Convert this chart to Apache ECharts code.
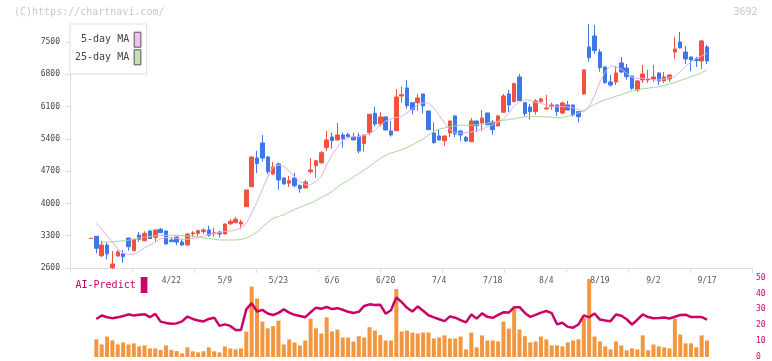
<!DOCTYPE html>
<html><head><meta charset="utf-8">
<script src="https://cdn.jsdelivr.net/npm/echarts@6/dist/echarts.min.js"></script>
<style>html,body{margin:0;padding:0;background:#fff}#c{width:772px;height:361px}</style>
</head><body><div id="c"></div>
<script>
const dates = ["4/1","4/2","4/3","4/4","4/7","4/8","4/9","4/10","4/11","4/14","4/15","4/16","4/17","4/18","4/21","4/22","4/23","4/24","4/25","4/28","4/30",
"5/1","5/2","5/7","5/8","5/9","5/12","5/13","5/14","5/15","5/16","5/19","5/20","5/21","5/22","5/23","5/26","5/27","5/28","5/29","5/30",
"6/2","6/3","6/4","6/5","6/6","6/9","6/10","6/11","6/12","6/13","6/16","6/17","6/18","6/19","6/20","6/23","6/24","6/25","6/26","6/27","6/30",
"7/1","7/2","7/3","7/4","7/7","7/8","7/9","7/10","7/11","7/14","7/15","7/16","7/17","7/18","7/22","7/23","7/24","7/25","7/28","7/29","7/30","7/31",
"8/1","8/4","8/5","8/6","8/7","8/8","8/12","8/13","8/14","8/15","8/18","8/19","8/20","8/21","8/22","8/25","8/26","8/27","8/28","8/29",
"9/1","9/2","9/3","9/4","9/5","9/8","9/9","9/10","9/11","9/12","9/16","9/17"];
const dateLabels = ["4/22","5/9","5/23","6/6","6/20","7/4","7/18","8/4","8/19","9/2","9/17"];
// [open, close, low, high]
const ohlc = [
[3240,3245,3240,3245],[3288,3027,2919,3290],[2867,3099,2839,3186],[3099,2908,2789,3158],[2607,2687,2578,2969],
[2860,2947,2845,2990],[2910,2845,2715,2990],[3251,3062,2975,3251],[2975,3223,2975,3225],[3316,3223,3171,3381],
[3192,3353,3179,3396],[3403,3236,3230,3425],[3266,3425,3164,3425],[3440,3366,3360,3468],[3403,3121,3110,3410],
[3208,3171,3165,3266],[3273,3164,3093,3280],[3164,3099,3077,3229],[3099,3338,3084,3345],[3340,3362,3266,3400],
[3353,3410,3279,3431],[3388,3425,3338,3468],[3425,3310,3280,3518],[3345,3365,3280,3475],[3375,3340,3258,3410],
[3338,3555,3330,3560],[3561,3613,3533,3657],[3583,3657,3570,3713],[3555,3598,3453,3650],[3930,4293,3925,4293],
[4364,5009,4364,5009],[4987,4863,4662,5139],[5312,4987,4907,5486],[5009,4690,4640,5030],[4640,4792,4612,4900],
[4857,4510,4299,4885],[4553,4423,4410,4560],[4438,4494,4364,4596],[4553,4386,4350,4662],[4386,4321,4234,4416],
[4336,4466,4330,4510],[4690,4727,4655,4987],[4820,4928,4560,4935],[4879,5102,4875,5139],[5211,5378,5139,5573],
[5443,5363,5189,5536],[5378,5486,5370,5747],[5486,5406,5211,5536],[5493,5449,5440,5536],[5443,5378,5370,5536],
[5464,5139,5089,5536],[5297,5486,5124,5490],[5536,5935,5480,5940],[5957,5725,5675,6100],[5725,5877,5666,5979],
[5877,5595,5580,5880],[5573,5486,5450,5790],[5580,6311,5575,6485],[6332,6360,6187,6533],[6506,6122,6057,6680],
[6187,6035,5935,6190],[6187,6289,6013,6376],[6376,6115,5949,6380],[6007,5601,5595,6010],[5530,5319,5297,5762],
[5464,5378,5370,5616],[5363,5464,5254,5470],[5530,5790,5443,5795],[5899,5508,5436,5920],[5573,5486,5356,5580],
[5436,5356,5334,5464],[5341,5790,5335,5855],[5790,5688,5558,5795],[5747,5855,5573,6029],[5963,5710,5700,5965],
[5768,5601,5493,5812],[5681,5899,5675,5920],[5979,6332,5963,6376],[6376,6137,5985,6463],[6209,6600,6200,6620],
[6745,6230,6225,6810],[6187,5948,5883,6190],[6094,5992,5818,6159],[5992,6224,5927,6267],[6209,6267,6187,6295],
[6050,6072,6050,6354],[6100,6137,6029,6187],[6137,5992,5898,6140],[5963,6180,5935,6209],[6137,6029,6020,6224],
[6137,5920,5883,6140],[5992,5883,5760,5995],[6376,6897,6354,6900],[7396,7164,7077,7895],[7634,7315,7250,7873],
[7287,6947,6860,7352],[6962,6621,6600,6970],[6636,6571,6534,6788],[6636,6832,6571,6983],[7049,6853,6832,7179],
[6940,6751,6686,7027],[6766,6500,6463,6770],[6463,6658,6426,6680],[6680,6810,6615,7005],[6680,6701,6615,6897],
[6701,6745,6636,7005],[6832,6658,6571,6840],[6658,6745,6615,6853],[6701,6788,6636,6790],[7287,7352,7135,7613],
[7504,7374,7370,7721],[7287,7135,7027,7417],[7179,7114,6875,7180],[7135,7100,6962,7179],[7092,7526,6918,7548],
[7396,7092,7027,7439]];
const ma5 = [null,3570,3446,3294,3164,3012,2919,2897,2897,2958,3034,3099,3164,3240,3258,3262,3240,3223,3223,3240,
3262,3294,3327,3353,3370,3392,3403,3425,3479,3570,3787,4032,4314,4575,4792,4835,4803,4705,4575,4473,
4412,4412,4477,4586,4835,5052,5215,5367,5421,5450,5450,5475,5519,5584,5703,5790,5833,5866,5888,5964,
6050,6148,6181,6181,6072,5909,5747,5595,5535,5526,5535,5551,5573,5606,5670,5703,5757,5833,5964,6115,
6202,6250,6235,6196,6170,6137,6109,6100,6100,6094,6076,6039,5985,6115,6332,6636,6853,6994,6955,6914,
6825,6734,6716,6716,6712,6680,6680,6701,6734,6751,6864,6973,7070,7146,7200,7259];
const ma25 = [null,null,3153,3164,3169,3179,3190,3203,3223,3251,3268,3284,3299,3305,3310,3310,3310,3305,3294,3290,
3268,3255,3240,3223,3208,3208,3208,3208,3218,3251,3305,3381,3490,3588,3675,3718,3750,3815,3870,3917,
3967,4010,4065,4130,4184,4260,4358,4434,4499,4575,4651,4727,4803,4889,4976,5041,5096,5126,5171,5215,
5269,5334,5399,5486,5562,5616,5638,5666,5681,5696,5696,5698,5709,5720,5741,5762,5783,5801,5822,5838,
5859,5877,5883,5883,5883,5879,5872,5855,5866,5888,5920,5963,6018,6089,6148,6206,6250,6285,6326,6365,
6402,6441,6467,6489,6502,6517,6532,6560,6593,6625,6669,6706,6751,6788,6836,6897];
const volume = [null,11.1,7.9,12.9,10.5,7.9,9.2,7.9,8.6,6.7,7.3,5.4,5.4,4.4,7.3,4.5,3.7,2.3,6.1,3.6,
2.9,3.6,6.1,3.6,2.9,6.7,5.4,4.8,5.4,16.1,44.4,36.9,22.3,18.1,19.4,22.9,7.9,11.1,9.2,7.3,
10.4,24.2,18.1,14.8,25,16.1,17.3,12.3,12.3,9.8,13.1,12.3,18.8,16.7,13.8,10.4,10.4,42.9,16.1,16.7,
15.4,14.8,15.4,15.4,11.7,12.3,13.6,11.7,11.7,12.9,4.8,15.4,6.1,13.6,10.4,10.4,9.8,22.3,17.9,30.6,
17.3,13.1,9.2,9.8,12.9,11.1,7.3,7.3,6.7,9.2,10.4,11.1,24.8,49.2,12.9,9.8,6.7,4.8,9.8,7.3,
4.2,5.4,4.8,13.6,4.2,7.9,6.7,6.1,5.4,24.2,14.2,8.6,8.6,6.1,13.6,10.4];
const aiPredict = [null,24.0,26.2,25.1,24.5,25.0,25.8,26.9,26.1,26.6,27.0,25.1,27.2,22.3,21.5,21.0,21.2,22.5,25.5,24.0,
23.0,22.4,24.0,24.8,19.6,20.6,19.6,17.0,17.0,30.0,34.0,28.7,29.7,27.4,26.5,27.8,30.0,28.0,26.6,25.8,
25.1,28.2,31.1,30.4,31.5,30.2,30.8,29.8,28.5,27.7,28.5,32.2,33.2,32.8,33.0,27.3,29.5,37.5,34.6,31.0,
28.7,31.9,29.2,26.3,25.0,23.8,22.6,25.6,24.8,23.2,21.8,26.8,24.2,27.5,25.3,24.7,26.5,28.2,28.0,31.4,
31.4,27.8,25.3,26.6,28.0,29.0,27.7,20.6,21.6,19.0,18.5,20.5,26.2,25.0,27.4,23.6,23.0,22.6,26.8,26.0,
23.8,20.5,23.5,26.8,25.2,24.4,24.6,24.9,24.3,25.4,26.5,26.7,25.2,25.2,25.2,23.6];

const FONT = 'DejaVu Sans Mono';
const UP = '#f0523f', DOWN = '#3f76e8';
const chart = echarts.init(document.getElementById('c'));
chart.setOption({
  animation: false,
  backgroundColor: '#fff',
  textStyle: {fontFamily: FONT},
  grid: [
    {left: 70, right: 20, top: 23.7, bottom: 93},
    {left: 88.3, right: 62.3, top: 23.7, bottom: 93},
    {left: 88.3, right: 62.3, top: 277.7, bottom: 3.3}
  ],
  xAxis: [
    {gridIndex: 0, type: 'value', min: 0, max: 11, interval: 1,
     axisLine: {onZero: false, lineStyle: {color: '#ddd', width: 1}},
     axisTick: {show: true, length: 5, lineStyle: {color: '#ddd'}},
     axisLabel: {show: false}, splitLine: {show: false}},
    {gridIndex: 1, type: 'category', data: dates, boundaryGap: true,
     axisLine: {show: false}, axisTick: {show: false}, splitLine: {show: false},
     axisLabel: {interval: (i, v) => dateLabels.includes(v), margin: 9, fontSize: 8, color: '#555', fontFamily: FONT}},
    {gridIndex: 2, type: 'category', data: dates, boundaryGap: true, show: false}
  ],
  yAxis: [
    {gridIndex: 0, type: 'value', min: 2600, max: 7900, interval: 700,
     axisLine: {show: true, onZero: false, lineStyle: {color: '#ddd'}},
     axisTick: {show: true, length: 5, lineStyle: {color: '#ddd'}},
     axisLabel: {fontSize: 8, color: '#444', margin: 10, showMaxLabel: false, fontFamily: FONT,
                 formatter: v => String(v)},
     splitLine: {show: false}},
    {gridIndex: 1, type: 'value', min: 2600, max: 7900, show: false},
    {gridIndex: 2, type: 'value', min: 0, max: 50, interval: 10, position: 'right', offset: 42.3,
     axisLine: {show: false}, axisTick: {show: false}, splitLine: {show: false},
     axisLabel: {fontSize: 8, color: '#cc0066', margin: 4, fontFamily: FONT, formatter: v => String(v)}}
  ],
  legend: [
    {data: [{name: '5-day MA', itemStyle: {color: '#f0c0f0', borderColor: '#555', borderWidth: 1}},
            {name: '25-day MA', itemStyle: {color: '#c2e2b2', borderColor: '#555', borderWidth: 1}}],
     orient: 'vertical', align: 'right', left: 70, top: 24, padding: [7.7, 5.3, 8.7, 5],
     itemGap: 1.6, itemWidth: 6.7, itemHeight: 15, icon: 'rect', backgroundColor: '#fff',
     borderColor: '#ddd', borderWidth: 1, selectedMode: false,
     textStyle: {fontSize: 10, color: '#444', fontFamily: FONT}},
    {data: [{name: 'AI-Predict', itemStyle: {color: '#cc0066'}}],
     align: 'right', left: 75.5, top: 277, padding: 0, itemWidth: 6.7, itemHeight: 16, icon: 'rect',
     selectedMode: false, textStyle: {fontSize: 10, color: '#cc0066', fontFamily: FONT}}
  ],
  graphic: [
    {type: 'text', left: 14, top: 7, style: {text: '(C)https://chartnavi.com/', fill: '#c8c8c8', font: '10px "DejaVu Sans Mono"'}},
    {type: 'text', right: 14.5, top: 7, style: {text: '3692', fill: '#c8c8c8', font: '10px "DejaVu Sans Mono"'}}
  ],
  series: [
    {type: 'candlestick', name: 'price', xAxisIndex: 1, yAxisIndex: 1, data: ohlc, barWidth: 4,
     itemStyle: {color: UP, color0: DOWN, borderColor: UP, borderColor0: DOWN, borderWidth: 1}},
    {type: 'line', name: '5-day MA', xAxisIndex: 1, yAxisIndex: 1, data: ma5, symbol: 'none',
     lineStyle: {color: '#e6b0ea', width: 1}, itemStyle: {color: '#e6b0ea'}},
    {type: 'line', name: '25-day MA', xAxisIndex: 1, yAxisIndex: 1, data: ma25, symbol: 'none',
     lineStyle: {color: '#a9d79a', width: 1}, itemStyle: {color: '#a9d79a'}},
    {type: 'bar', name: 'volume', xAxisIndex: 2, yAxisIndex: 2, data: volume, barWidth: 4,
     itemStyle: {color: '#f2973f'}},
    {type: 'line', name: 'AI-Predict', xAxisIndex: 2, yAxisIndex: 2, data: aiPredict, symbol: 'none',
     lineStyle: {color: '#cc0066', width: 2.5}, itemStyle: {color: '#cc0066'}}
  ]
});
</script></body></html>
